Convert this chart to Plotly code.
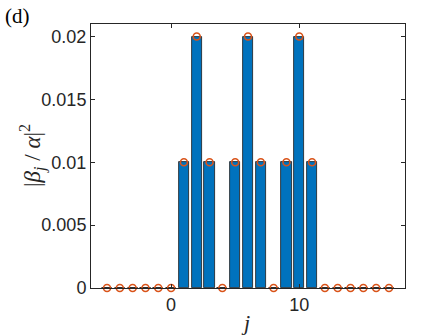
import plotly.graph_objects as go

# site index j and |beta_j/alpha|^2
j = list(range(-5, 18))
vals = [0, 0, 0, 0, 0, 0,
        0.01, 0.02, 0.01, 0,
        0.01, 0.02, 0.01, 0,
        0.01, 0.02, 0.01,
        0, 0, 0, 0, 0, 0]

x_ticks = [0, 10]
y_ticks = [0, 0.005, 0.01, 0.015, 0.02]
y_ticktext = ["0", "0.005", "0.01", "0.015", "0.02"]

fig = go.Figure()
fig.add_bar(x=j, y=vals, width=0.8,
            marker=dict(color="#0072BD", line=dict(color="#1a1a1a", width=0.8)))
fig.add_scatter(x=j, y=vals, mode="markers", cliponaxis=False,
                marker=dict(symbol="circle-open", size=7, color="#D95319",
                            line=dict(width=1.6)))

axis_common = dict(showline=True, linecolor="#262626", linewidth=1, mirror="ticks",
                   ticks="inside", ticklen=4, tickcolor="#262626", showgrid=False,
                   zeroline=False,
                   tickfont=dict(family="Liberation Sans, Arial", size=18, color="#262626"))

fig.update_xaxes(range=[-6.25, 18.25], tickvals=x_ticks, **axis_common)
fig.update_yaxes(range=[0, 0.021], tickvals=y_ticks, ticktext=y_ticktext, **axis_common)

fig.update_layout(
    width=447, height=335,
    margin=dict(l=91, r=42, t=24, b=47),
    plot_bgcolor="white", paper_bgcolor="white",
    showlegend=False, bargap=0,
    annotations=[
        dict(text="(d)", xref="paper", yref="paper", x=-0.28, y=1.085,
             xanchor="left", yanchor="top", showarrow=False,
             font=dict(family="Liberation Serif", size=21, color="black")),
        dict(text="<i>j</i>", xref="paper", yref="paper", x=(245 - 91) / 314, y=-0.075,
             showarrow=False, yanchor="top",
             font=dict(family="Liberation Serif", size=22, color="#262626")),
        dict(text="|<i>β<sub>j</sub></i> / <i>α</i>|<sup>2</sup>", xref="paper", yref="paper",
             x=-0.245, y=0.5, textangle=-90, showarrow=False,
             font=dict(family="Liberation Serif", size=23, color="#262626")),
    ],
)

fig.write_html("out.html", config={"displayModeBar": False},
               post_script="document.body.style.margin='0';")
